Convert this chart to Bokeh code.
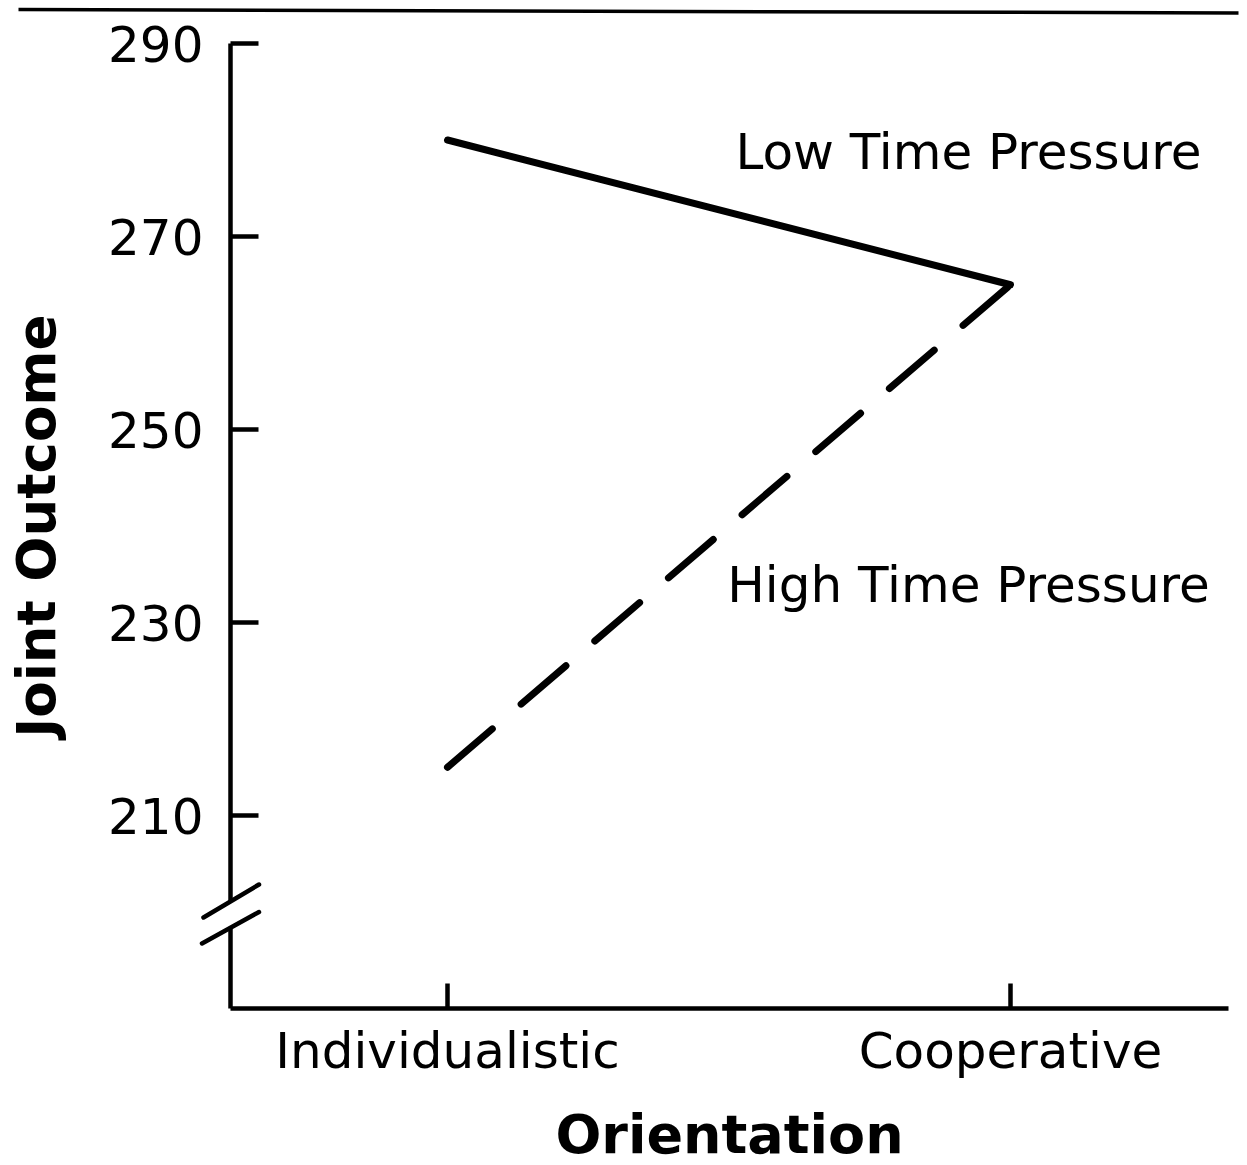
from bokeh.plotting import figure
from bokeh.models import Range1d, FixedTicker
from bokeh.core.properties import value
from bokeh.embed import file_html
from bokeh.resources import INLINE

# ---- data ----
categories = ["Individualistic", "Cooperative"]
low_time_pressure = [280, 265]
high_time_pressure = [215, 265]
y_ticks = [210, 230, 250, 270, 290]
series_labels = ["Low Time Pressure", "High Time Pressure"]

# ---- layout mapping (page pixels -> data) ----
W, H = 1247, 1165
X0_PAGE, PX_PER_X = 447.0, 563.0       # x=0 at page 447, 563 px per unit
Y290_PAGE, PX_PER_Y = 43.0, 9.65       # y=290 at page 43

def px(page_x):
    return (page_x - X0_PAGE) / PX_PER_X

def py(page_y):
    return 290 - (page_y - Y290_PAGE) / PX_PER_Y

xs = list(range(len(categories)))

p = figure(width=W, height=H, output_backend="svg", toolbar_location=None,
           x_range=Range1d(px(0), px(W)),
           y_range=Range1d(py(H), py(0)),
           min_border=0)
p.outline_line_color = None
p.grid.visible = False
p.background_fill_color = "white"
p.border_fill_color = "white"

FONT = "DejaVu Sans"
AXIS_X = px(230)
AXIS_RIGHT = px(1228)
Y_BOTTOM = 190

# x axis
xa = p.xaxis[0]
xa.fixed_location = Y_BOTTOM
xa.bounds = (AXIS_X, AXIS_RIGHT)
xa.ticker = FixedTicker(ticks=xs)
xa.major_label_overrides = {i: c for i, c in zip(xs, categories)}
xa.minor_tick_line_color = None
xa.major_tick_in = 25
xa.major_tick_out = 0
xa.axis_line_width = 4.5
xa.major_tick_line_width = 4.5
xa.axis_line_color = "black"
xa.major_tick_line_color = "black"
xa.major_label_text_font = FONT
xa.major_label_text_font_size = "50px"
xa.major_label_text_color = "black"
xa.major_label_standoff = 13
xa.axis_label = "Orientation"
xa.axis_label_text_font = FONT
xa.axis_label_text_font_style = "bold"
xa.axis_label_text_font_size = "54px"
xa.axis_label_text_color = "black"
xa.axis_label_standoff = 20

# y axis
ya = p.yaxis[0]
ya.fixed_location = AXIS_X
ya.bounds = (Y_BOTTOM, 290)
ya.ticker = FixedTicker(ticks=y_ticks)
ya.minor_tick_line_color = None
ya.axis_line_color = None
ya.major_tick_in = 28
ya.major_tick_out = 0
ya.major_tick_line_width = 4.5
ya.major_tick_line_color = "black"
ya.major_label_text_font = FONT
ya.major_label_text_font_size = "50px"
ya.major_label_text_color = "black"
ya.major_label_standoff = 27
ya.axis_label = "Joint Outcome"
ya.axis_label_text_font = FONT
ya.axis_label_text_font_style = "bold"
ya.axis_label_text_font_size = "53px"
ya.axis_label_text_color = "black"
ya.axis_label_standoff = 38

# broken y axis line
p.segment(x0=[AXIS_X, AXIS_X], y0=[Y_BOTTOM, py(901)],
          x1=[AXIS_X, AXIS_X], y1=[py(927), 290],
          line_width=4.5, line_color="black")
# break slashes
p.segment(x0=[px(203), px(201.5)], y0=[py(917), py(943)],
          x1=[px(258.5), px(258.5)], y1=[py(884), py(911.5)],
          line_width=4.5, line_color="black", line_cap="round")

# top rule
p.line(x=[px(18), px(1238)], y=[py(9), py(12.5)], line_width=3.5, line_color="black")

# series
p.line(x=xs, y=low_time_pressure, line_width=7, line_color="black",
       line_cap="round", line_join="round")
p.line(x=xs, y=high_time_pressure, line_width=7, line_color="black",
       line_dash="59 38", line_cap="round")

# series labels
p.text(x=[px(968), px(968)], y=[py(151), py(584)], text=series_labels,
       text_font=value(FONT), text_font_size="50px", text_color="black",
       text_align="center", text_baseline="alphabetic")

open("out.html", "w").write(file_html(p, INLINE))
